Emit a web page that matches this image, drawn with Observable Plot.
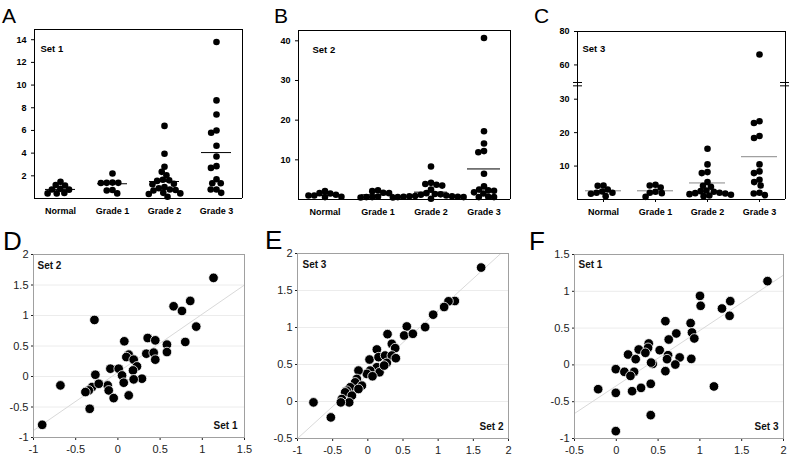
<!DOCTYPE html>
<html><head><meta charset="utf-8">
<script src="https://cdn.jsdelivr.net/npm/d3@7"></script>
<script src="https://cdn.jsdelivr.net/npm/@observablehq/plot@0.6"></script>
<style>
body{margin:0;background:#fff;}
#root{position:relative;width:792px;height:459px;overflow:hidden;background:#fff;}
.panel{position:absolute;}
.letter{position:absolute;font-family:"Liberation Sans",Arial,sans-serif;line-height:1;color:#000;}
</style></head><body><div id="root"></div>
<script>
// ---------- data ----------
const categories = ["Normal", "Grade 1", "Grade 2", "Grade 3"];

const set1Values = [
  [1.47, 1.18, 1.15, 0.85, 0.8, 0.78, 0.48, 0.45, 0.45],
  [2.2, 1.4, 1.38, 1.38, 1.36, 0.75, 0.7, 0.45],
  [6.4, 3.95, 2.8, 2.35, 2.05, 1.65, 1.6, 1.55, 1.3, 1.25, 1.0, 0.9, 0.8, 0.75, 0.7, 0.5, 0.45, 0.4, 0.15],
  [13.8, 8.65, 7.4, 6.0, 5.8, 4.65, 3.7, 2.85, 2.7, 1.7, 1.35, 1.35, 0.8, 0.8, 0.5]
];
const set1Lines = [0.8, 1.3, 1.5, 4.05];

const set2Values = [
  [2.1, 1.6, 1.5, 1.2, 1.0, 1.0, 0.7, 0.6],
  [2.3, 2.1, 1.7, 1.6, 0.7, 0.6, 0.6, 0.5, 0.5],
  [8.3, 4.2, 3.9, 3.7, 3.5, 2.5, 1.6, 1.4, 1.3, 1.2, 1.0, 0.9, 0.8, 0.8, 0.7, 0.7, 0.6, 0.6, 0.2],
  [40.7, 17.2, 14.1, 12.2, 11.9, 6.5, 3.3, 2.5, 2.3, 2.2, 1.8, 1.5, 0.7, 0.6, 0.6]
];
const set2Lines = [1.0, 1.2, 1.85, 7.7];

const set3Values = [
  [4.2, 4.1, 3.0, 2.4, 2.0, 2.0, 1.7, 1.0],
  [4.4, 4.2, 3.6, 2.3, 2.0, 1.9, 0.8],
  [15.2, 10.5, 8.2, 7.9, 5.2, 4.1, 3.8, 2.7, 2.5, 2.3, 2.0, 1.9, 1.8, 1.6, 1.4, 1.2, 1.0],
  [66.2, 23.4, 22.9, 19.0, 18.4, 10.5, 8.4, 7.9, 5.9, 5.2, 4.2, 2.0, 1.8, 1.3]
];
const set3Lines = [2.6, 2.6, 4.95, 12.8];

const set1Ticks = [2, 4, 6, 8, 10, 12, 14];
const set2Ticks = [10, 20, 30, 40];
const set3Ticks = [10, 20, 30, 60, 80];

// Set 3 axis is broken between 34 and 49.5; the part above is drawn at half scale
const set3BreakLow = 34, set3BreakHigh = 49.5, set3Top = 80;

// D: Set 1 (x) vs Set 2 (y)
const dX = [1.133,0.857,0.660,0.759,0.928,0.798,-0.278,0.076,0.353,0.443,0.581,0.581,0.337,0.424,0.443,0.128,0.100,0.187,0.226,-0.089,0.009,0.179,0.285,0.187,0.049,0.069,-0.267,-0.306,-0.345,-0.121,-0.109,-0.227,-0.050,0.128,-0.681,-0.897,-0.334,-0.385];
const dY = [1.617,1.239,1.151,1.075,0.818,0.566,0.927,0.577,0.631,0.593,0.522,0.401,0.374,0.391,0.276,0.358,0.319,0.276,0.166,0.128,0.128,0.100,-0.036,-0.047,0.018,-0.102,0.029,-0.173,-0.228,-0.146,-0.228,-0.119,-0.354,-0.310,-0.146,-0.792,-0.529,-0.255];
const dTrendX = [-1, 1.5], dTrendY = [-0.885, 1.5];

// E: Set 2 (x) vs Set 3 (y)
const eX = [1.611,1.237,1.147,1.085,0.929,0.815,0.554,0.517,0.640,0.280,0.341,0.389,0.128,0.024,0.152,0.246,0.341,0.398,0.270,0.128,0.166,0.033,-0.014,-0.133,-0.156,-0.180,-0.085,-0.251,-0.299,-0.133,-0.322,-0.227,-0.370,-0.265,-0.384,-0.526,-0.773,0.066,0.232];
const eY = [1.810,1.358,1.354,1.277,1.173,1.005,1.014,0.892,0.915,0.910,0.779,0.721,0.703,0.567,0.599,0.621,0.621,0.585,0.522,0.463,0.395,0.418,0.373,0.418,0.305,0.259,0.214,0.192,0.146,0.169,0.124,0.079,0.033,-0.012,-0.012,-0.215,-0.012,0.341,0.486];
const eTrendX = [-1, 1.89], eTrendY = [-0.5, 2];

// F: Set 3 (x) vs Set 1 (y)
const fX = [1.809,1.001,1.009,1.363,1.264,1.355,1.168,0.587,0.889,0.718,0.905,0.933,0.627,0.388,0.380,0.268,0.348,0.519,0.141,0.232,0.619,0.607,0.758,0.897,0.706,0.587,0.436,0.416,-0.006,0.097,0.213,0.169,-0.217,-0.006,0.189,0.296,0.412,0.412,-0.006];
const fY = [1.138,0.938,0.803,0.866,0.766,0.667,-0.293,0.594,0.567,0.427,0.440,0.359,0.345,0.291,0.232,0.209,0.164,0.200,0.141,0.078,0.132,0.078,0.101,0.082,0.005,-0.085,0.014,0.031,-0.058,-0.094,-0.094,-0.149,-0.330,-0.380,-0.357,-0.312,-0.257,-0.683,-0.900];
const fTrendX = [-0.5, 2], fTrendY = [-0.66, 1.22];

// ---------- drawing ----------
const FONT = "Liberation Sans, Arial, Helvetica, sans-serif";
const root = document.getElementById("root");

// broken-axis mapping for Set 3 (value -> axis coordinate and back)
const GAP = 1, UPPER_K = 0.5;
const breakMap = v => v <= set3BreakLow ? v : set3BreakLow + GAP + (v - set3BreakHigh) * UPPER_K;
const breakUnmap = u => u <= set3BreakLow ? u : set3BreakHigh + (u - set3BreakLow - GAP) / UPPER_K;
const identity = v => v;

function place(node, left, top) {
  const div = document.createElement("div");
  div.className = "panel";
  div.style.left = left + "px";
  div.style.top = top + "px";
  div.appendChild(node);
  root.appendChild(div);
}
function letter(t, left, top, size) {
  const d = document.createElement("div");
  d.className = "letter";
  d.textContent = t;
  d.style.left = left + "px";
  d.style.top = top + "px";
  d.style.fontSize = size + "px";
  root.appendChild(d);
}

function swarm(values, lines, cfg) {
  const map = cfg.map || identity;
  const unmap = cfg.unmap || identity;
  const pts = categories.flatMap((c, i) => values[i].map(v => ({cat: c, v})));
  const meds = categories.map((c, i) => ({cat: c, v: lines[i]}));
  const first = categories[0], last = categories[categories.length - 1];
  const top = map(cfg.top);
  const Y = d => map(d.v);
  const marks = [
    Plot.ruleY([0, top], {stroke: "#000", strokeWidth: 1}),
    Plot.ruleX([{cat: first, v: 0}], {fx: "cat", x: "v", stroke: "#000"}),
    Plot.ruleX([{cat: last, v: 1}], {fx: "cat", x: "v", stroke: "#000"}),
    Plot.tickY(meds, {fx: "cat", y: Y, inset: cfg.inset, stroke: cfg.lineColor, strokeWidth: 1}),
    Plot.dot(pts, Plot.dodgeX({anchor: "middle", padding: -0.8},
      {fx: "cat", y: Y, r: 3.3, fill: "#000", stroke: "none"})),
    Plot.text([{cat: first, t: cfg.label}], {fx: "cat", text: "t", frameAnchor: "top-left",
      textAnchor: "start", lineAnchor: "middle", dx: cfg.ldx, dy: cfg.ldy, fontSize: 9.5, fontWeight: "bold"})
  ];
  if (cfg.breaks) {
    const bl = cfg.breaks.map(v => ({cat: first, v}));
    const br = cfg.breaks.map(v => ({cat: last, v}));
    marks.push(Plot.tickY(bl, {fx: "cat", y: Y, insetLeft: -4, insetRight: 47, stroke: "#000"}));
    marks.push(Plot.tickY(br, {fx: "cat", y: Y, insetLeft: 47, insetRight: -4, stroke: "#000"}));
  }
  return Plot.plot({
    width: 264, height: 225,
    marginTop: cfg.mt, marginBottom: cfg.mb, marginLeft: cfg.ml, marginRight: cfg.mr,
    facet: {margin: 0},
    fx: {domain: categories, padding: 0, label: null, axis: "bottom", tickSize: cfg.fxTick, tickPadding: 9 - cfg.fxTick},
    x: {domain: [0, 1], axis: null},
    y: {domain: [0, top], ticks: cfg.ticks.map(map), tickFormat: u => String(Math.round(unmap(u))),
        label: null, axis: "left", tickSize: 3, tickPadding: 5},
    style: {fontFamily: FONT, fontSize: "9px", fontWeight: "bold", color: "#000", background: "transparent", overflow: "visible"},
    marks
  });
}

function scatter(xs, ys, tx, ty, cfg) {
  const pts = xs.map((x, i) => ({x, y: ys[i]}));
  const trend = tx.map((x, i) => ({x, y: ty[i]}));
  return Plot.plot({
    width: 264, height: 234,
    marginTop: cfg.mt, marginBottom: cfg.mb, marginLeft: cfg.ml, marginRight: cfg.mr,
    x: {domain: cfg.xDomain, ticks: cfg.xTicks, tickSize: 3, tickPadding: 5, tickFormat: d => String(d), label: null},
    y: {domain: cfg.yDomain, ticks: cfg.yTicks, tickSize: 2, tickPadding: 3, tickFormat: d => String(d), label: null},
    style: {fontFamily: FONT, fontSize: "11px", color: "#222", background: "transparent", overflow: "visible"},
    marks: [
      Plot.ruleY(cfg.yTicks, {stroke: "#ececec"}),
      Plot.line(trend, {x: "x", y: "y", stroke: "#d9d9d9", strokeWidth: 1}),
      Plot.dot(pts, {x: "x", y: "y", r: 4.8, fill: "#000", stroke: "#fff", strokeWidth: 0.8}),
      Plot.frame({stroke: "#a0a0a0"}),
      Plot.text([cfg.topLabel], {text: d => d, frameAnchor: "top-left", textAnchor: "start", lineAnchor: "middle",
        dx: cfg.tdx, dy: cfg.tdy, fontSize: 10, fontWeight: "bold", fill: "#111"}),
      Plot.text([cfg.bottomLabel], {text: d => d, frameAnchor: "bottom-right", textAnchor: "end", lineAnchor: "middle",
        dx: cfg.bdx, dy: cfg.bdy, fontSize: 10, fontWeight: "bold", fill: "#111"})
    ]
  });
}

place(swarm(set1Values, set1Lines, {
  top: 14.9, ticks: set1Ticks, mt: 29, mb: 27, ml: 34, mr: 22,
  inset: 11, lineColor: "#000", label: "Set 1", ldx: 6, ldy: 19, fxTick: 0
}), 0, 0);

place(swarm(set2Values, set2Lines, {
  top: 42.6, ticks: set2Ticks, mt: 30, mb: 26, ml: 33, mr: 17,
  inset: 10, lineColor: "#000", label: "Set 2", ldx: 14, ldy: 19, fxTick: 0
}), 264, 0);

place(swarm(set3Values, set3Lines, {
  top: set3Top, ticks: set3Ticks, map: breakMap, unmap: breakUnmap,
  mt: 31, mb: 26, ml: 48, mr: 7,
  inset: 8, lineColor: "#888", label: "Set 3", ldx: 5, ldy: 17, fxTick: 3,
  breaks: [set3BreakLow, set3BreakHigh]
}), 528, 0);

place(scatter(dX, dY, dTrendX, dTrendY, {
  xDomain: [-1, 1.5], xTicks: [-1, -0.5, 0, 0.5, 1, 1.5],
  yDomain: [-1, 2], yTicks: [-1, -0.5, 0, 0.5, 1, 1.5, 2],
  mt: 29, mb: 22, ml: 33, mr: 20,
  topLabel: "Set 2", bottomLabel: "Set 1", tdx: 4, tdy: 11.5, bdx: -7, bdy: -12
}), 0, 225);

place(scatter(eX, eY, eTrendX, eTrendY, {
  xDomain: [-1, 2], xTicks: [-1, -0.5, 0, 0.5, 1, 1.5, 2],
  yDomain: [-0.5, 2], yTicks: [-0.5, 0, 0.5, 1, 1.5, 2],
  mt: 28, mb: 21, ml: 33, mr: 20,
  topLabel: "Set 3", bottomLabel: "Set 2", tdx: 5, tdy: 11, bdx: -5, bdy: -12
}), 264, 225);

place(scatter(fX, fY, fTrendX, fTrendY, {
  xDomain: [-0.5, 2], xTicks: [-0.5, 0, 0.5, 1, 1.5, 2],
  yDomain: [-1, 1.5], yTicks: [-1, -0.5, 0, 0.5, 1, 1.5],
  mt: 29, mb: 21, ml: 46, mr: 9,
  topLabel: "Set 1", bottomLabel: "Set 3", tdx: 4, tdy: 10, bdx: -5, bdy: -12
}), 528, 225);

letter("A", 2, 5, 21);
letter("B", 274, 5, 21);
letter("C", 534, 5, 21);
letter("D", 3, 228, 26);
letter("E", 265, 227, 26);
letter("F", 529, 228, 26);
</script></body></html>
